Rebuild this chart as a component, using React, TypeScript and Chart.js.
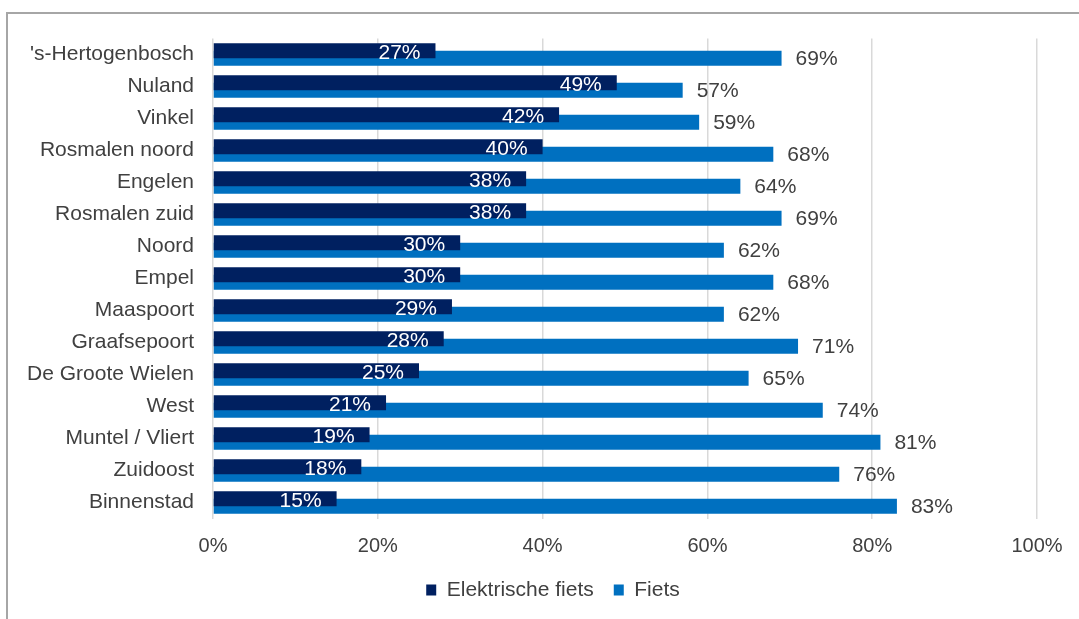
import React, { useEffect, useRef } from "react";
import { Chart, registerables } from "chart.js";

Chart.register(...registerables);

const categories = [
  "'s-Hertogenbosch",
  "Nuland",
  "Vinkel",
  "Rosmalen noord",
  "Engelen",
  "Rosmalen zuid",
  "Noord",
  "Empel",
  "Maaspoort",
  "Graafsepoort",
  "De Groote Wielen",
  "West",
  "Muntel / Vliert",
  "Zuidoost",
  "Binnenstad",
];
const elektrischeFiets = [27, 49, 42, 40, 38, 38, 30, 30, 29, 28, 25, 21, 19, 18, 15];
const fiets = [69, 57, 59, 68, 64, 69, 62, 68, 62, 71, 65, 74, 81, 76, 83];
const seriesNames = ["Elektrische fiets", "Fiets"];
const xMin = 0;
const xMax = 100;
const xStep = 20;

const FONT = '"Liberation Sans", Arial, sans-serif';
const TEXT = "#404040";
const DARK = "#002060";
const LIGHT = "#0070C0";

const barLabels = {
  id: "barLabels",
  afterDatasetsDraw(chart: any) {
    const ctx = chart.ctx;
    ctx.save();
    ctx.font = `21px ${FONT}`;
    ctx.textBaseline = "middle";
    chart.data.datasets.forEach((ds: any, di: number) => {
      const meta = chart.getDatasetMeta(di);
      meta.data.forEach((bar: any, i: number) => {
        const txt = ds.data[i] + "%";
        if (di === 0) {
          ctx.fillStyle = "#ffffff";
          ctx.textAlign = "right";
          ctx.fillText(txt, bar.x - 15, bar.y + 2);
        } else {
          ctx.fillStyle = TEXT;
          ctx.textAlign = "left";
          ctx.fillText(txt, bar.x + 14, bar.y + 1.5);
        }
      });
    });
    ctx.restore();
  },
};

// shift the legend's horizontal span so it is centred like the reference
const legendShift = {
  id: "legendShift",
  afterLayout(chart: any) {
    const lg = chart.legend;
    if (!lg) return;
    lg.left = 69;
    lg.width = lg.right - lg.left;
  },
};

export default function App() {
  const ref = useRef<HTMLCanvasElement | null>(null);

  useEffect(() => {
    if (!ref.current) return;
    const chart = new Chart(ref.current, {
      type: "bar",
      data: {
        labels: categories,
        datasets: [
          {
            label: seriesNames[0],
            data: elektrischeFiets,
            backgroundColor: DARK,
            categoryPercentage: 0.4625,
            barPercentage: 2.03,
          },
          {
            label: seriesNames[1],
            data: fiets,
            backgroundColor: LIGHT,
            categoryPercentage: 0.4625,
            barPercentage: 2.03,
          },
        ],
      },
      options: {
        indexAxis: "y",
        animation: false,
        responsive: false,
        layout: { padding: { left: 0, right: 42, top: 38.5, bottom: 8.5 } },
        scales: {
          x: {
            min: xMin,
            max: xMax,
            position: "bottom",
            grid: { color: "#d9d9d9", lineWidth: 1.5, drawTicks: false },
            border: { display: false },
            ticks: {
              stepSize: xStep,
              padding: 15.5,
              color: TEXT,
              font: { family: FONT, size: 20 },
              callback: (v: any) => v + "%",
            },
            afterFit: (scale: any) => {
              scale.height = 41;
            },
          },
          y: {
            grid: { display: false, drawTicks: false },
            border: { display: false },
            ticks: {
              padding: 19,
              color: TEXT,
              font: { family: FONT, size: 21 },
              autoSkip: false,
            },
            afterFit: (scale: any) => {
              scale.width = 213;
            },
          },
        },
        plugins: {
          legend: {
            position: "bottom",
            labels: {
              boxWidth: 10,
              boxHeight: 11,
              padding: 20,
              color: TEXT,
              font: { family: FONT, size: 21 },
            },
          },
          tooltip: { enabled: false },
        },
      },
      plugins: [barLabels, legendShift],
    });
    return () => chart.destroy();
  }, []);

  return (
    <div
      style={{
        position: "fixed",
        left: 0,
        top: 0,
        width: 1079,
        height: 619,
        background: "#ffffff",
        overflow: "hidden",
      }}
    >
      <div
        style={{
          position: "absolute",
          left: 6,
          top: 12,
          width: 1200,
          height: 700,
          borderTop: "2px solid #a6a6a6",
          borderLeft: "2px solid #a6a6a6",
        }}
      />
      <canvas
        ref={ref}
        width={1079}
        height={619}
        style={{ position: "absolute", left: 0, top: 0, width: 1079, height: 619 }}
      />
    </div>
  );
}
